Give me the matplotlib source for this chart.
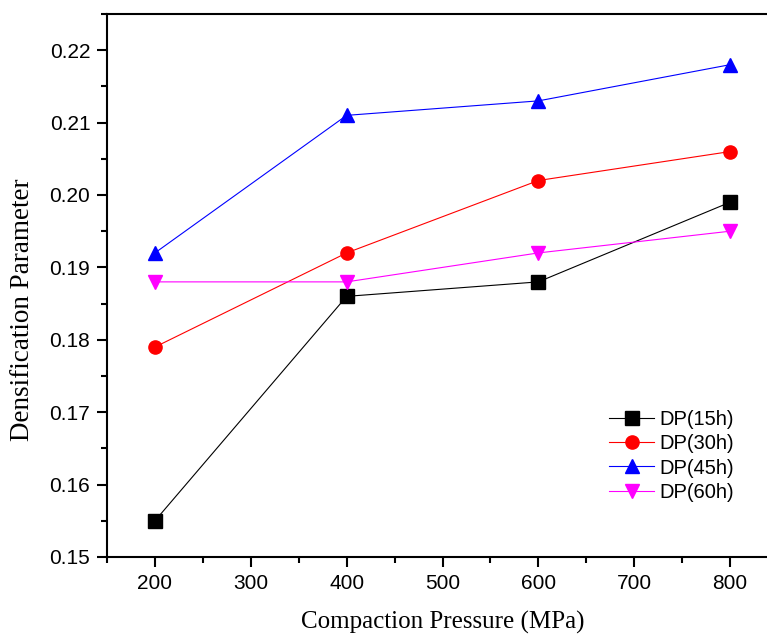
import matplotlib
matplotlib.use("Agg")
import matplotlib.pyplot as plt
from matplotlib.ticker import MultipleLocator

pressure = [200, 400, 600, 800]
dp15 = [0.155, 0.186, 0.188, 0.199]
dp30 = [0.179, 0.192, 0.202, 0.206]
dp45 = [0.192, 0.211, 0.213, 0.218]
dp60 = [0.188, 0.188, 0.192, 0.195]
labels = ["DP(15h)", "DP(30h)", "DP(45h)", "DP(60h)"]

fig = plt.figure(figsize=(7.67, 6.35), dpi=100)
ax = fig.add_axes([107/767, 1-557/635, (778-107)/767, (557-14)/635])

series = [dp15, dp30, dp45, dp60]
colors = ["black", "red", "blue", "magenta"]
markers = ["s", "o", "^", "v"]
for s, c, m, lab in zip(series, colors, markers, labels):
    ax.plot(pressure, s, color=c, marker=m, markersize=9.5, linewidth=0.8, label=lab)

ax.set_xlim(150, 850)
ax.set_ylim(0.15, 0.225)
ax.xaxis.set_major_locator(MultipleLocator(100))
ax.xaxis.set_minor_locator(MultipleLocator(50))
ax.yaxis.set_major_locator(MultipleLocator(0.01))
ax.yaxis.set_minor_locator(MultipleLocator(0.005))
ax.tick_params(which="both", direction="out", width=1.5)
ax.tick_params(which="major", length=7, labelsize=15, pad=5)
ax.tick_params(which="minor", length=4)
for lab in ax.get_xticklabels() + ax.get_yticklabels():
    lab.set_family("Liberation Sans")
for sp in ax.spines.values():
    sp.set_linewidth(1.5)

ax.set_xlabel("Compaction Pressure (MPa)", family="Liberation Serif", fontsize=18)
ax.set_ylabel("Densification Parameter", family="Liberation Serif", fontsize=19.5)
ax.xaxis.set_label_coords(0.5, -0.0995)
ax.yaxis.set_label_coords(-0.107, 0.455)

leg = ax.legend(loc="lower right", bbox_to_anchor=(0.962, 0.068), frameon=False,
                prop={"family": "Liberation Sans", "size": 14.5}, handlelength=2.2,
                labelspacing=0.27, handletextpad=0.3)

fig.savefig("out.png", dpi=100)
